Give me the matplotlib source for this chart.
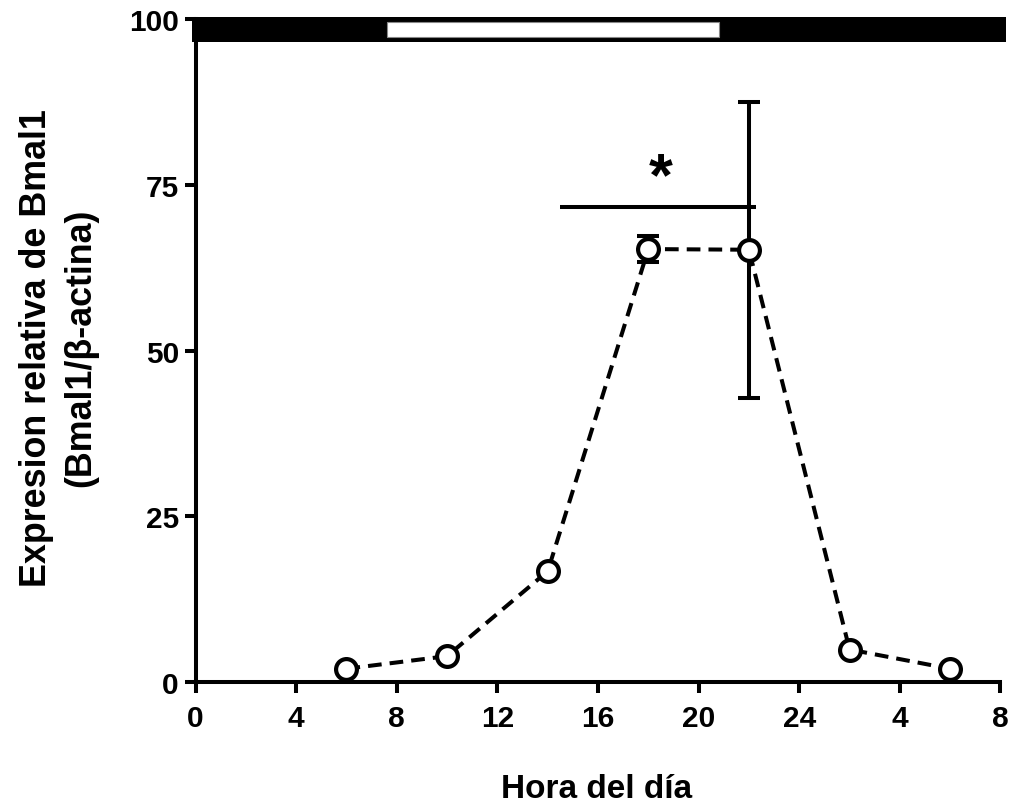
import matplotlib.pyplot as plt
from matplotlib.patches import Rectangle

plt.rcParams['font.family'] = ['Liberation Sans', 'DejaVu Sans']
plt.rcParams['font.weight'] = 'bold'

# Bmal1 expression over the day
hora = [6, 10, 14, 18, 22, 26, 30]
bmal1 = [2.0, 3.9, 16.7, 65.3, 65.2, 4.9, 2.0]
sem = [0, 0, 0, 2.0, 22.3, 0, 0]

xticks = [0, 4, 8, 12, 16, 20, 24, 28, 32]
xticklabels = ['0', '4', '8', '12', '16', '20', '24', '4', '8']
yticks = [0, 25, 50, 75, 100]

# light phase of the light/dark bar
luz_on = 7.6
luz_off = 20.8

# significance bracket
sig_x = [14.5, 22.3]
sig_y = 71.6
sig_star_x = 18.5

fig = plt.figure(figsize=(10.11, 8.04), dpi=100)
ax = fig.add_axes([0.1934, 0.1505, 0.7962, 0.8246])

lw = 2.9
ax.errorbar(hora, bmal1, yerr=sem, fmt='none', ecolor='black',
            elinewidth=lw, capsize=8, capthick=lw, zorder=2)
ax.plot(hora, bmal1, color='black', lw=lw, dashes=(3.4, 2.0),
        marker='o', ms=15, mfc='white', mec='black', mew=3.0, zorder=3)

ax.plot(sig_x, [sig_y, sig_y], color='black', lw=lw, solid_capstyle='butt')
ax.text(sig_star_x, sig_y, '*', ha='center', va='bottom',
        fontsize=44, fontweight='bold')

# dark / light bar along the top
ax.add_patch(Rectangle((-0.14, 96.5), 32.34, 3.8, facecolor='black',
                       edgecolor='none', clip_on=False, zorder=4))
ax.add_patch(Rectangle((luz_on, 97.3), luz_off - luz_on, 2.2, facecolor='white',
                       edgecolor='#888888', lw=0.8, clip_on=False, zorder=5))

ax.set_xlim(0, 32)
ax.set_ylim(0, 100)
ax.set_xticks(xticks)
ax.set_xticklabels(xticklabels)
ax.set_yticks(yticks)

for s in ['top', 'right']:
    ax.spines[s].set_visible(False)
for s in ['left', 'bottom']:
    ax.spines[s].set_linewidth(lw)

ax.tick_params(axis='both', width=lw, length=8, labelsize=21.5, direction='out')
ax.tick_params(axis='x', pad=8)
ax.tick_params(axis='y', pad=4)
for lab in ax.get_xticklabels() + ax.get_yticklabels():
    lab.set_fontweight('bold')

ax.set_xlabel('Hora del día', fontsize=24, fontweight='bold')
ax.xaxis.set_label_coords(0.498, -0.137)
ax.set_ylabel('Expresion relativa de Bmal1\n(Bmal1/β-actina)', fontsize=25.8,
              fontweight='bold', linespacing=1.32)
ax.yaxis.set_label_coords(-0.121, 0.505)

fig.savefig('out.png', dpi=100)
